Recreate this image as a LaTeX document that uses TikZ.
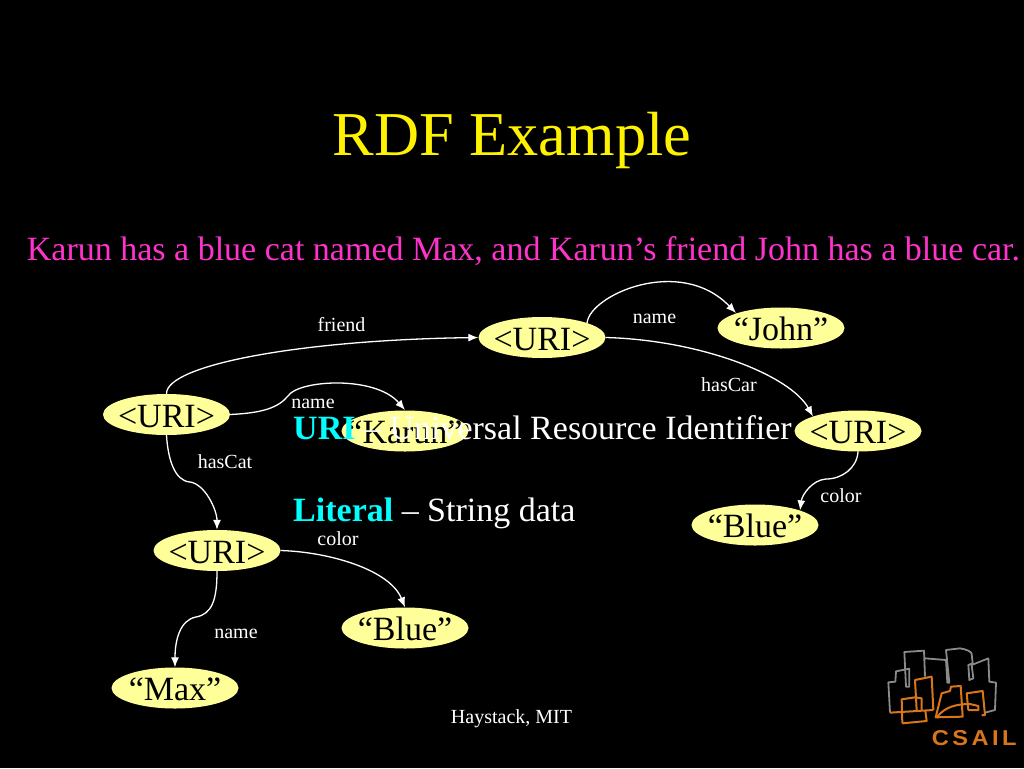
\documentclass[tikz,border=0pt]{standalone}
\usepackage{fontspec}
\setmainfont{Liberation Serif}
\newfontfamily\logofont[LetterSpace=16,FakeStretch=1.1]{Liberation Sans}
\usetikzlibrary{arrows.meta,shapes.geometric,positioning}
\definecolor{nodeyellow}{HTML}{FFFF99}
\definecolor{headpink}{HTML}{FF33CC}
\definecolor{keycyan}{HTML}{00FFFF}
\definecolor{logogray}{HTML}{8A8A8A}
\definecolor{logoorange}{HTML}{D9761C}
\newcommand{\vtext}[1]{\makebox[0pt]{\raisebox{-12.5pt}[0pt][0pt]{#1}}}
\begin{document}
\begin{tikzpicture}[x=1pt,y=-1pt]
\tikzstyle{vertex} = [
	shape=ellipse,
	fill=nodeyellow,
	text=black,
	minimum width=127pt,
	minimum height=41pt,
	inner sep=0pt,
	font=\fontsize{34}{34}\selectfont
];
\tikzstyle{rel} = [
	text=white,
	inner sep=0pt,
	font=\fontsize{20}{20}\selectfont
];
\tikzstyle{bodytext} = [
	text=white,
	inner sep=0pt,
	anchor=base west,
	font=\fontsize{34}{34}\selectfont
];
\tikzstyle{link} = [
	-{Latex[length=10pt,width=8pt]},
	line width=1.3pt,
	color=white
];
\tikzstyle{skyline} = [line width=1.8pt, line join=round, color=logogray];
\tikzstyle{tower} = [line width=2pt, line join=round, color=logoorange];

\fill[black] (0,0) rectangle (1024,768);
\useasboundingbox (0,0) rectangle (1024,768);

\node[text=yellow, inner sep=0pt, font=\fontsize{62.4}{62.4}\selectfont] (title) at (512,140) {RDF Example};
\node[text=headpink, inner sep=0pt, font=\fontsize{34}{34}\selectfont] (sentence) at (523.5,251) {Karun has a blue cat named Max, and Karun’s friend John has a blue car.};

\node[vertex] (Root) at (166.5,414.5) {\vtext{<URI>}};
\node[vertex] (Karun) at (405,431) {\vtext{“Karun”}};
\node[vertex] (Cat) at (217,550.5) {\vtext{<URI>}};
\node[vertex] (Max) at (175,688) {\vtext{“Max”}};
\node[vertex] (CatBlue) at (405,628) {\vtext{“Blue”}};
\node[vertex] (Friend) at (542,337.5) {\vtext{<URI>}};
\node[vertex] (John) at (781,328) {\vtext{“John”}};
\node[vertex] (Car) at (858,431) {\vtext{<URI>}};
\node[vertex] (CarBlue) at (755,525) {\vtext{“Blue”}};

\node[bodytext] (uriline) at (293,439) {\textcolor{keycyan}{\textbf{URI}} – Universal Resource Identifier};
\node[bodytext] (literalline) at (293,521) {\textcolor{keycyan}{\textbf{Literal}} – String data};

\node[rel] (friendlab) at (341.5,325) {friend};
\node[rel] (namea) at (313,404) {name};
\node[rel] (hascat) at (225,462) {hasCat};
\node[rel] (colora) at (338,539) {color};
\node[rel] (nameb) at (236,634) {name};
\node[rel] (namec) at (654.5,319) {name};
\node[rel] (hascar) at (729,385) {hasCar};
\node[rel] (colorb) at (841,496) {color};
\node[rel] (footer) at (511.5,719) {Haystack, MIT};

\coordinate (bendname) at (288,396);
\coordinate (bendcat) at (190,482);
\coordinate (bendmax) at (196,617);
\coordinate (bendcolor) at (826,479);

%graph edges
\draw[link] (Root.north) .. controls (166,365) and (300,340) .. (Friend.west);
\draw[link] (Root.east) .. controls (262,413) and (278,408) .. (bendname) .. controls (298,380) and (375,375) .. (405,410);
\draw[link] (Root.south) .. controls (168,460) and (175,481) .. (bendcat) .. controls (205,484) and (217,510) .. (Cat.north);
\draw[link] (Cat.east) .. controls (330,552) and (390,570) .. (CatBlue.north);
\draw[link] (Cat.south) .. controls (217,600) and (212,614) .. (bendmax) .. controls (180,620) and (175,640) .. (Max.north);
\draw[link] (Friend.north east) .. controls (590,295) and (680,255) .. (736,313);
\draw[link] (Friend.east) .. controls (700,340) and (790,375) .. (Car.north west);
\draw[link] (Car.south) .. controls (857,468) and (842,479) .. (bendcolor) .. controls (812,480) and (802,495) .. (CarBlue.north east);

%logo
\begin{scope}[shift={(870,630)},x=0.3333pt,y=-0.3333pt]
	\draw[skyline] (60,248) -- (55,157) -- (76,155) -- (78,124) -- (118,116) -- (118,170) -- (108,170) -- (103,66) -- (162,62) -- (165,140);
	\draw[skyline] (165,85) -- (228,90) -- (232,158) -- (238,158) -- (228,60) -- (270,55) .. controls (290,58) and (305,65) .. (305,72) -- (308,100) -- (295,105) -- (298,150) -- (310,145) -- (305,105) -- (355,85) -- (358,155) -- (378,158) -- (375,240) -- (345,248);
	\draw[tower] (60,248) -- (190,240);
	\draw[tower] (97,280) -- (95,208) -- (135,202) -- (155,205) -- (155,240);
	\draw[tower] (97,280) -- (170,273) -- (166,242);
	\draw[tower] (140,240) -- (135,150) -- (185,140) -- (190,240);
	\draw[tower] (197,262) -- (215,190) -- (240,183) -- (243,170) -- (272,168) -- (278,260) -- cycle;
	\draw[tower] (200,262) .. controls (225,230) and (260,222) .. (300,222) -- (325,228) -- (325,240) -- (295,240) -- (290,190) -- (338,183) -- (345,255) -- (335,256);
	\node[text=logoorange, inner sep=0pt, font=\logofont\bfseries\fontsize{21.5}{22}\selectfont] (csail) at (313,324) {CSAIL};
\end{scope}
\end{tikzpicture}
\end{document}
